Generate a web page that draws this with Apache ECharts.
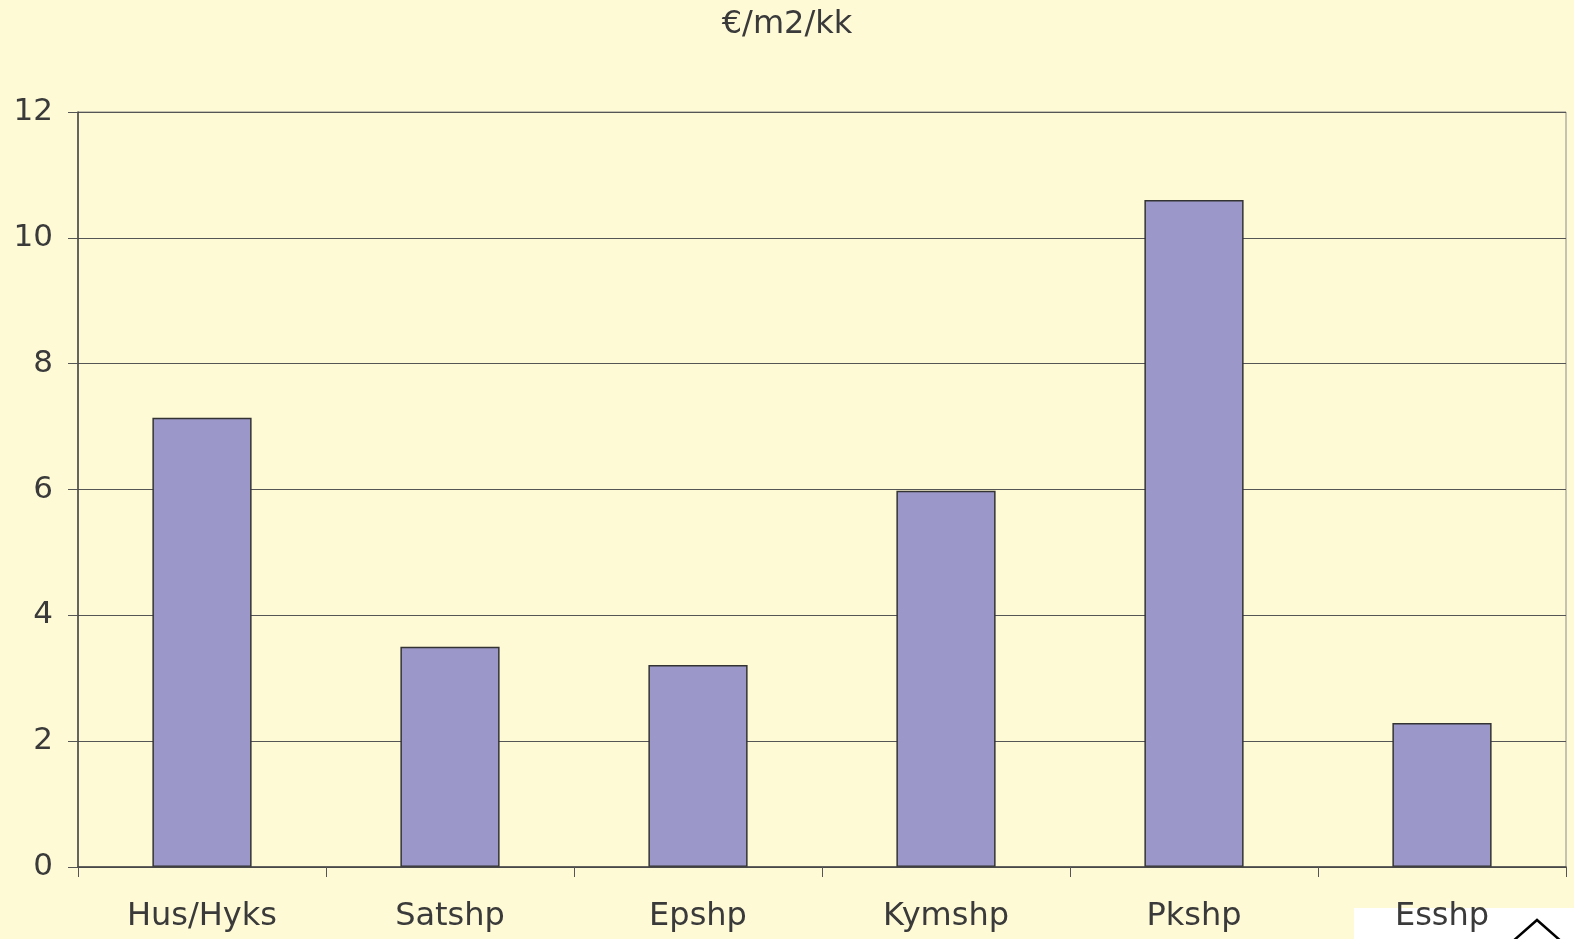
<!DOCTYPE html>
<html><head><meta charset="utf-8">
<script src="https://cdn.jsdelivr.net/npm/echarts@6/dist/echarts.min.js"></script>
<style>html,body{margin:0;padding:0;background:#fffad6;overflow:hidden;}#c{width:100vw;height:100vh;}</style>
</head><body><div id="c"></div>
<script>
const categories = ['Hus/Hyks', 'Satshp', 'Epshp', 'Kymshp', 'Pkshp', 'Esshp'];
const values = [7.14, 3.50, 3.21, 5.98, 10.60, 2.29];
const yTicks = [0, 2, 4, 6, 8, 10, 12];
const titleText = '€/m2/kk';

const chart = echarts.init(document.getElementById('c'));
const font = 'DejaVu Sans, Verdana, sans-serif';
chart.setOption({
  backgroundColor: '#fffad6',
  animation: false,
  title: { text: titleText, left: 'center', top: 4, textStyle: { fontFamily: font, fontSize: 32, fontWeight: 'normal', color: '#3a3a3a' } },
  grid: { left: 78, right: 8, top: 112, bottom: 72, show: true, borderColor: '#8a8a8a', borderWidth: 1, backgroundColor: 'transparent' },
  xAxis: {
    type: 'category', data: categories, z: 10,
    axisLine: { lineStyle: { color: '#444', width: 1.5 } },
    axisTick: { show: true, length: 10, lineStyle: { color: '#555' } },
    axisLabel: { fontFamily: font, fontSize: 32, color: '#3a3a3a', margin: 34 }
  },
  yAxis: {
    type: 'value', min: yTicks[0], max: yTicks[yTicks.length - 1], interval: 2,
    axisLine: { show: true, lineStyle: { color: '#444', width: 1.5 } },
    axisTick: { show: true, length: 10, lineStyle: { color: '#555' } },
    axisLabel: { fontFamily: font, fontSize: 31, color: '#3a3a3a', margin: 25 },
    splitLine: { show: true, lineStyle: { color: '#555', width: 1 } }
  },
  series: [{
    type: 'bar', data: values, barWidth: '40%',
    itemStyle: { color: '#9c97c9', borderColor: '#333', borderWidth: 1.5 }
  }],
  graphic: [
    { type: 'rect', z: -1, shape: { x: 1354, y: 908, width: 220, height: 31 }, style: { fill: '#ffffff' } },
    { type: 'polyline', z: 1, shape: { points: [[1512, 942], [1537, 920], [1562, 942]] }, style: { stroke: '#000', lineWidth: 2.5, fill: null } }
  ]
});
</script></body></html>
